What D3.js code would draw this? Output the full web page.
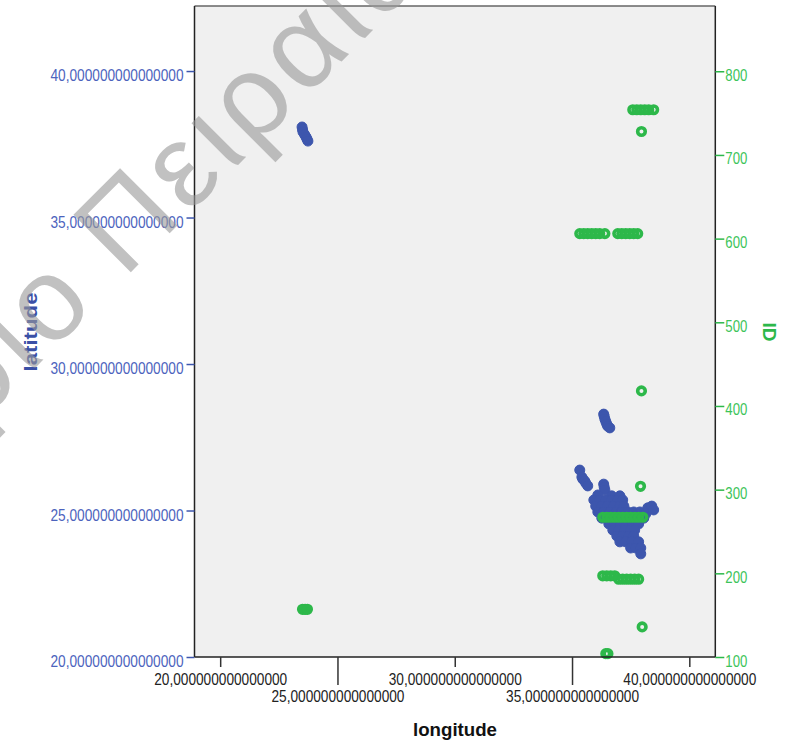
<!DOCTYPE html>
<html>
<head>
<meta charset="utf-8">
<script src="https://cdn.jsdelivr.net/npm/d3@7"></script>
<style>
  body { margin: 0; background: #fff; }
  text { font-family: "Liberation Sans", Arial, sans-serif; }
</style>
</head>
<body>
<svg id="chart" width="788" height="749"></svg>
<script>
// axis ticks
var lonTicks = [20, 25, 30, 35, 40];
var latTicks = [20, 25, 30, 35, 40];
var idTicks = [100, 200, 300, 400, 500, 600, 700, 800];

// latitude by longitude (blue, left axis)
var latitudePoints = [
    [23.49, 38.09], [23.51, 38.00], [23.53, 37.92], [23.60, 37.83], [23.66, 37.75], [23.70, 37.68], [23.74, 37.61],
    [36.35, 28.29], [36.37, 28.22], [36.40, 28.12], [36.44, 28.04], [36.48, 27.95], [36.52, 27.88], [36.61, 27.82],
    [35.33, 26.38],
    [35.42, 26.14], [35.46, 26.07], [35.54, 26.01], [35.59, 25.93], [35.67, 25.84],
    [36.35, 25.90], [36.37, 25.80], [36.40, 25.70],
    [36.10, 25.53], [36.69, 25.50], [37.04, 25.50],
    [35.93, 25.36], [36.18, 25.36], [36.44, 25.36], [36.69, 25.36], [36.95, 25.36], [37.16, 25.36],
    [36.01, 25.15], [36.27, 25.15], [36.52, 25.15], [36.78, 25.15], [37.04, 25.15], [37.21, 25.15],
    [36.10, 24.95], [36.35, 24.95], [36.61, 24.95], [36.87, 24.95], [37.12, 24.95], [37.38, 24.95],
    [37.63, 24.95], [37.89, 24.95],
    [38.14, 24.88], [38.23, 25.09], [38.40, 25.15], [38.48, 25.02],
    [36.27, 24.74], [36.52, 24.74], [36.78, 24.74], [37.04, 24.74], [37.29, 24.74], [37.55, 24.74],
    [37.80, 24.74], [38.06, 24.74],
    [36.57, 24.54], [36.82, 24.54], [37.08, 24.54], [37.33, 24.54], [37.59, 24.54], [37.84, 24.54],
    [36.74, 24.33], [36.99, 24.33], [37.25, 24.33], [37.50, 24.33], [37.67, 24.33],
    [36.91, 24.13], [37.16, 24.13], [37.42, 24.13], [37.63, 24.13],
    [37.04, 23.93], [37.29, 23.93], [37.55, 23.93], [37.84, 23.93],
    [37.50, 23.72], [37.72, 23.72], [37.93, 23.72],
    [37.93, 23.52]
];

// ID by longitude (green, right axis)
var idPoints = [
    [37.59, 754], [37.76, 754], [37.93, 754], [38.10, 754], [38.27, 754], [38.48, 754],
    [37.96, 728],
    [35.33, 606], [35.50, 606], [35.67, 606], [35.84, 606], [36.01, 606], [36.18, 606], [36.40, 606],
    [36.95, 606], [37.12, 606], [37.29, 606], [37.46, 606], [37.63, 606], [37.80, 606],
    [37.96, 418],
    [37.92, 304],
    [36.31, 267], [36.48, 267], [36.65, 267], [36.82, 267], [36.99, 267], [37.16, 267],
    [37.33, 267], [37.50, 267], [37.67, 267], [37.84, 267], [38.02, 267],
    [36.31, 197], [36.48, 197], [36.65, 197], [36.82, 197],
    [36.99, 193], [37.16, 193], [37.33, 193], [37.50, 193], [37.67, 193], [37.84, 193],
    [37.99, 136],
    [36.44, 104], [36.53, 104],
    [23.51, 157], [23.62, 157], [23.72, 157]
];

var blue = "#3d56ad", blueText = "#4c63bd",
    green = "#2db84a", greenText = "#3cc45a";

var svg = d3.select("#chart");

var x = d3.scaleLinear().domain([18.905, 41.108]).range([194.5, 715.3]);
var yLat = d3.scaleLinear().domain([20, 42.22]).range([657, 6]);
var yId = d3.scaleLinear().domain([100, 878]).range([657, 6]);

var fmt = function(d) { return d3.format(".15f")(d).replace(".", ","); };

// plot area
svg.append("rect")
    .attr("x", x.range()[0]).attr("y", 6)
    .attr("width", x.range()[1] - x.range()[0]).attr("height", 651)
    .attr("fill", "#f0f0f0");

// points
svg.append("g").selectAll("circle")
    .data(latitudePoints)
    .enter().append("circle")
    .attr("cx", function(d) { return x(d[0]); })
    .attr("cy", function(d) { return yLat(d[1]); })
    .attr("r", 5)
    .attr("fill", blue)
    .attr("stroke", blue)
    .attr("stroke-width", 1);

svg.append("g").selectAll("circle")
    .data(idPoints)
    .enter().append("circle")
    .attr("cx", function(d) { return x(d[0]); })
    .attr("cy", function(d) { return yId(d[1]); })
    .attr("r", 3.8)
    .attr("fill", "none")
    .attr("stroke", green)
    .attr("stroke-width", 3.6);

// frame
svg.append("line").attr("x1", 194.5).attr("x2", 715.3).attr("y1", 6).attr("y2", 6)
    .attr("stroke", "#666").attr("stroke-width", 1.5);
svg.append("line").attr("x1", 194.5).attr("x2", 194.5).attr("y1", 6).attr("y2", 657)
    .attr("stroke", "#222").attr("stroke-width", 1.5);
svg.append("line").attr("x1", 715.3).attr("x2", 715.3).attr("y1", 6).attr("y2", 657)
    .attr("stroke", "#222").attr("stroke-width", 1.5);

// left axis
var gl = svg.append("g")
    .attr("transform", "translate(194.5,0)")
    .call(d3.axisLeft(yLat).tickValues(latTicks).tickSize(8).tickPadding(3).tickFormat(fmt));
gl.select(".domain").remove();
gl.selectAll("line").attr("stroke", blue).attr("stroke-width", 1.5);
gl.selectAll("text")
    .attr("fill", blueText)
    .attr("font-family", "'Liberation Sans', Arial, sans-serif")
    .attr("font-size", 16)
    .attr("dy", 9.5)
    .attr("textLength", 133)
    .attr("lengthAdjust", "spacingAndGlyphs");

// right axis
var gr = svg.append("g")
    .attr("transform", "translate(715.3,0)")
    .call(d3.axisRight(yId).tickValues(idTicks).tickSize(9).tickPadding(1));
gr.select(".domain").remove();
gr.selectAll("line").attr("stroke", green).attr("stroke-width", 1.5);
gr.selectAll("text")
    .attr("fill", greenText)
    .attr("font-family", "'Liberation Sans', Arial, sans-serif")
    .attr("font-size", 16)
    .attr("dy", 9)
    .attr("textLength", 22)
    .attr("lengthAdjust", "spacingAndGlyphs");

// bottom axis, labels staggered on two rows
var gb = svg.append("g")
    .attr("transform", "translate(0,657)")
    .call(d3.axisBottom(x).tickValues(lonTicks).tickSize(10).tickFormat(fmt));
gb.select(".domain")
    .attr("d", "M194.5,0H715.3")
    .attr("stroke", "#222").attr("stroke-width", 1.5);
gb.selectAll(".tick line")
    .attr("stroke", "#333").attr("stroke-width", 1.5)
    .attr("y2", function(d) { return d % 10 == 5 ? 28 : 10; });
gb.selectAll(".tick text")
    .attr("fill", "#222")
    .attr("font-family", "'Liberation Sans', Arial, sans-serif")
    .attr("font-size", 16)
    .attr("dy", 0)
    .attr("y", function(d) { return d % 10 == 5 ? 44.7 : 28; })
    .attr("textLength", 133)
    .attr("lengthAdjust", "spacingAndGlyphs");

// axis titles
svg.append("text")
    .attr("transform", "translate(37,332) rotate(-90)")
    .attr("text-anchor", "middle")
    .attr("font-weight", "bold")
    .attr("font-size", 19)
    .attr("fill", "#3a50a6")
    .attr("textLength", 79)
    .attr("lengthAdjust", "spacingAndGlyphs")
    .text("latitude");

svg.append("text")
    .attr("transform", "translate(763,332) rotate(90)")
    .attr("text-anchor", "middle")
    .attr("font-weight", "bold")
    .attr("font-size", 19)
    .attr("fill", green)
    .text("ID");

svg.append("text")
    .attr("x", 455).attr("y", 736)
    .attr("text-anchor", "middle")
    .attr("font-weight", "bold")
    .attr("font-size", 18)
    .attr("fill", "#111")
    .attr("textLength", 84)
    .attr("lengthAdjust", "spacingAndGlyphs")
    .text("longitude");

// watermark
var wm = svg.append("g")
    .attr("transform", "translate(124,279) rotate(-45)")
    .attr("fill", "#999")
    .attr("opacity", 0.6)
    .attr("font-size", 118)
    .attr("letter-spacing", 6);
wm.append("text").attr("x", -33).attr("text-anchor", "end").text("Αποθετήριο");
wm.append("text").attr("x", 0).text("Πειραιώς");
</script>
</body>
</html>
